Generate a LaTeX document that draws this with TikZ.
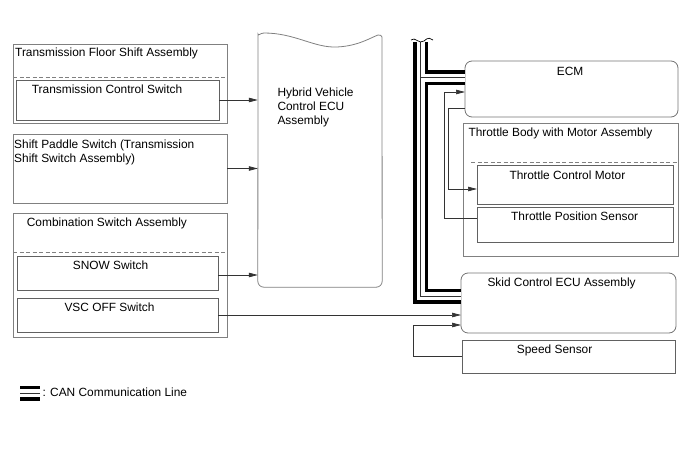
\documentclass[tikz,border=0pt]{standalone}
\usepackage{fontspec}
\setmainfont{Liberation Sans}
\usetikzlibrary{arrows.meta, calc}
\tikzset{
  part/.style = {draw=black!50, line width=0.8pt, inner sep=0pt, outer sep=0pt},
  sw/.style   = {draw=black!62, line width=0.8pt, inner sep=0pt, outer sep=0pt},
  ecu/.style  = {draw=black!55, line width=0.8pt, rounded corners=7pt,
                 inner sep=0pt, outer sep=0pt},
  txt/.style  = {anchor=base west, inner sep=0pt, align=left,
                 font=\fontsize{11.9}{14}\selectfont},
  sep/.style  = {dash pattern=on 4pt off 2.5pt, draw=black!50, line width=0.8pt},
  sig/.style  = {-{Triangle[length=9pt, width=4.5pt]}, line width=0.7pt, draw=black!80},
  can/.style  = {line width=15pt, draw=black,
                 postaction={draw=white, line width=8pt},
                 postaction={draw=black!80, line width=0.8pt}},
  brk/.style  = {line width=0.7pt, draw=black}
}
\begin{document}
\begin{tikzpicture}[x=1pt, y=-1pt]
\useasboundingbox (0,0) rectangle (688,463);

% left side
\node[part, minimum width=214pt, minimum height=79pt]  at (120,  83.5) (tfs)  {};
\node[sw,   minimum width=203pt, minimum height=40pt]  at (117.5,100  ) (tcs)  {};
\node[part, minimum width=214pt, minimum height=69pt]  at (120, 168.5) (sps)  {};
\node[part, minimum width=214pt, minimum height=124pt] at (120, 275  ) (csa)  {};
\node[sw,   minimum width=201pt, minimum height=34pt]  at (117.5,273  ) (snow) {};
\node[sw,   minimum width=201pt, minimum height=34pt]  at (117.5,315  ) (vsc)  {};
\draw[sep] ($(tfs.north west)+(0,33)$) -- ($(tfs.north east)+(0,33)$);
\draw[sep] ($(csa.north west)+(0,39)$) -- ($(csa.north east)+(0,39)$);

% hybrid ECU
\node[inner sep=0pt, minimum width=124pt, minimum height=254pt] at (320,160) (hv) {};
\draw[part] (382,37) [rounded corners=6pt] -- (hv.south east) -- (hv.south west) -- (258,40)
  [sharp corners] to[out=90, in=180] (264,33)
  .. controls (295,33) and (314,48) .. (337,47)
  .. controls (358,46) and (370,38) .. (378,35) to[out=0, in=90] (382,37);

% right side
\node[ecu,  minimum width=213pt, minimum height=56pt]  at (571.5, 89  ) (ecm)  {};
\node[part, minimum width=215pt, minimum height=133pt] at (570.5,189.5) (tbm)  {};
\node[sw,   minimum width=196pt, minimum height=39pt]  at (575,  184.5) (tcm)  {};
\node[sw,   minimum width=196pt, minimum height=35pt]  at (575,  224.5) (tps)  {};
\node[ecu,  minimum width=215pt, minimum height=60pt]  at (568.5,303  ) (skid) {};
\node[sw,   minimum width=213pt, minimum height=33pt]  at (568.5,356.5) (spd)  {};
\draw[sep] ($(tbm.north west)+(8,39)$) -- ($(tbm.north east)+(0,39)$);

% texts (base = last line)
\node[txt] at (15,   56  ) (tfsT)  {Transmission Floor Shift Assembly};
\node[txt] at (31.7, 93  ) (tcsT)  {Transmission Control Switch};
\node[txt] at (14,  162.7) (spsT)  {Shift Paddle Switch (Transmission\\Shift Switch Assembly)};
\node[txt] at (26.7,226.7) (csaT)  {Combination Switch Assembly};
\node[txt] at (72.7,269  ) (snowT) {SNOW Switch};
\node[txt] at (64.3,311  ) (vscT)  {VSC OFF Switch};
\node[txt] at (277.3,124 ) (hvT)   {Hybrid Vehicle\\Control ECU\\Assembly};
\node[txt] at (556.7,75  ) (ecmT)  {ECM};
\node[txt] at (468.3,136 ) (tbmT)  {Throttle Body with Motor Assembly};
\node[txt] at (509.3,179.3) (tcmT) {Throttle Control Motor};
\node[txt] at (511, 220.7) (tpsT)  {Throttle Position Sensor};
\node[txt] at (487.3,286.7) (skidT) {Skid Control ECU Assembly};
\node[txt] at (516.7,353.3) (spdT) {Speed Sensor};
\node[txt] at (42.3,396  ) (legT)  {: CAN Communication Line};

% signal lines
\draw[sig] (tcs.east)  -- (tcs.east -| hv.west);
\draw[sig] (sps.east)  -- (sps.east -| hv.west);
\draw[sig] ($(snow.east)+(0,2)$) -- ($(snow.east -| hv.west)+(0,2)$);
\draw[sig] (vsc.east)  -- (vsc.east -| skid.west);
\draw[sig] ($(ecm.west)+(0,19)$) -- ++(-17,0) |- ($(tcm.west)+(0,4.5)$);
\draw[sig] ($(tps.west)+(0,-6.5)$) -- ++(-33,0) |- ($(ecm.west)+(0,3)$);
\draw[sig] (spd.west) -- ++(-49,0) |- ($(skid.west)+(0,22)$);

% CAN bus
\coordinate (canTop) at (420.5,42);
\draw[can] (canTop) |- ($(skid.west)+(0,-7)$)
           (canTop) |- ($(ecm.west)+(0,-11.5)$);
\draw[brk] (411,40) .. controls (415,36) and (419,45) .. (424,41)
                    .. controls (428,37) and (431,38) .. (433,40);

% legend
\coordinate (legA) at (20,393);
\coordinate (legB) at (40,393);
\draw[can] (legA) -- (legB);
\end{tikzpicture}
\end{document}
